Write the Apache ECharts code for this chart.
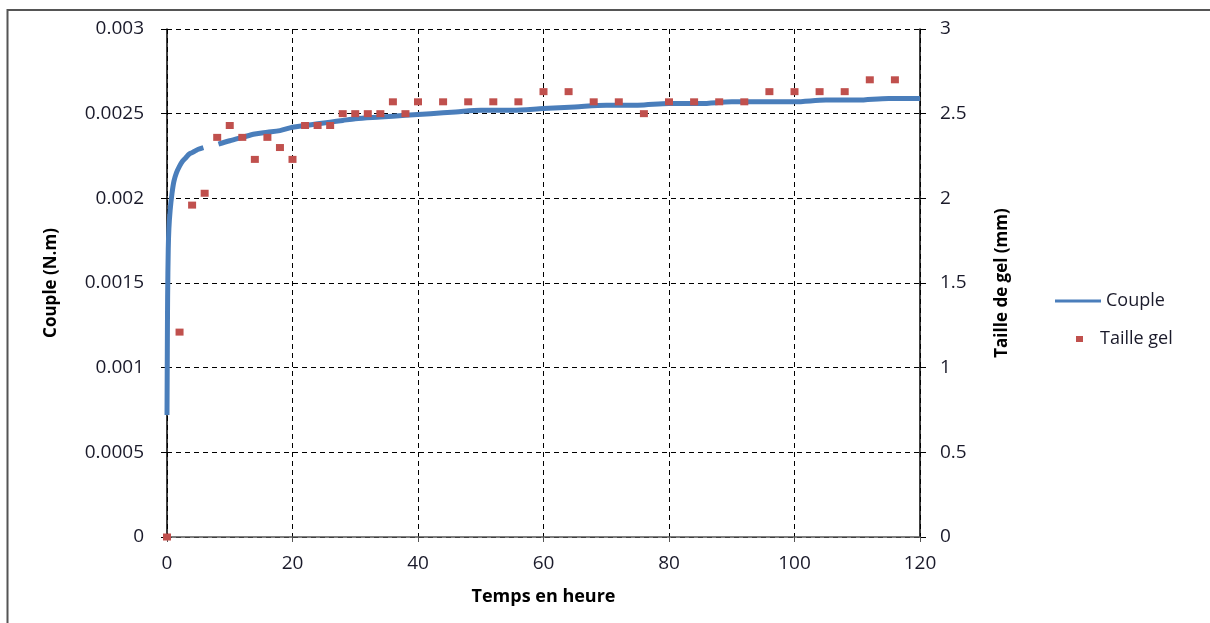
<!DOCTYPE html>
<html>
<head>
<meta charset="utf-8">
<script src="https://cdn.jsdelivr.net/npm/echarts@6/dist/echarts.min.js"></script>
<style>html,body{margin:0;padding:0;background:#fff}#c{width:1210px;height:623px}</style>
</head>
<body>
<div id="c"></div>
<script>
// Couple (N.m) vs time (h); null = gap in the recorded curve
const coupleTime = [0, 0.05, 0.1, 0.2, 0.3, 0.5, 0.8, 1.1, 1.5, 2, 2.5, 3, 3.5, 4, 4.5, 5, 5.8, 6.5, 8.2, 10, 12, 14, 16, 18, 20, 22, 24, 26, 28, 30, 34, 38, 42, 46, 50, 55, 60, 65, 70, 75, 80, 85, 90, 95, 100, 105, 110, 115, 120];
const coupleValues = [0.00072, 0.00110, 0.00142, 0.00170, 0.00182, 0.00193, 0.00203, 0.00210, 0.00215, 0.00219, 0.00222, 0.00224, 0.00226, 0.00227, 0.00228, 0.00229, 0.00230, null, 0.00232, 0.00234, 0.00236, 0.00238, 0.00239, 0.00240, 0.00242, 0.00243, 0.00244, 0.00245, 0.00246, 0.00247, 0.00248, 0.00249, 0.00250, 0.00251, 0.00252, 0.00252, 0.00253, 0.00254, 0.00255, 0.00255, 0.00256, 0.00256, 0.00257, 0.00257, 0.00257, 0.00258, 0.00258, 0.00259, 0.00259];
// Taille gel (mm) vs time (h)
const gelTime = [0, 2, 4, 6, 8, 10, 12, 14, 16, 18, 20, 22, 24, 26, 28, 30, 32, 34, 36, 38, 40, 44, 48, 52, 56, 60, 64, 68, 72, 76, 80, 84, 88, 92, 96, 100, 104, 108, 112, 116];
const gelValues = [0, 1.21, 1.96, 2.03, 2.36, 2.43, 2.36, 2.23, 2.36, 2.30, 2.23, 2.43, 2.43, 2.43, 2.50, 2.50, 2.50, 2.50, 2.57, 2.50, 2.57, 2.57, 2.57, 2.57, 2.57, 2.63, 2.63, 2.57, 2.57, 2.50, 2.57, 2.57, 2.57, 2.57, 2.63, 2.63, 2.63, 2.63, 2.70, 2.70];
const xTicks = [0, 20, 40, 60, 80, 100, 120];

const chart = echarts.init(document.getElementById('c'), null, {renderer: 'canvas'});
const font = "'Open Sans', 'Liberation Sans', sans-serif";
const lblColor = '#1a1a2a';
const dashed = {show: true, lineStyle: {color: '#000', type: [5, 4], width: 1}};
chart.setOption({
  animation: false,
  backgroundColor: '#fff',
  graphic: [{
    type: 'polyline', silent: true,
    shape: {points: [[7.5, 623], [7.5, 10], [1210, 10]]},
    style: {stroke: '#555', lineWidth: 2, fill: null}
  }],
  grid: {left: 167, right: 290, top: 29, bottom: 86},
  legend: [{
    orient: 'vertical', left: 1050, top: 287,
    textStyle: {fontFamily: font, fontSize: 18, color: lblColor},
    data: [{name: 'Couple', icon: 'path://M0,0 L46,0 L46,3 L0,3 Z', itemStyle: {color: '#4a7ebb'}}],
    itemWidth: 46, itemHeight: 3, itemGap: 2
  }, {
    orient: 'vertical', left: 1071, top: 325,
    textStyle: {fontFamily: font, fontSize: 18, color: lblColor, padding: [0, 0, 0, 12]},
    data: [{name: 'Taille gel', icon: 'rect', itemStyle: {color: '#c0504d'}}],
    itemWidth: 7, itemHeight: 6
  }],
  xAxis: {
    type: 'value', min: 0, max: 120, interval: 20,
    name: 'Temps en heure', nameLocation: 'middle', nameGap: 51,
    nameTextStyle: {fontFamily: font, fontSize: 18, fontWeight: 'bold', color: '#000'},
    axisLine: {show: true, lineStyle: {color: '#555', width: 1.5}},
    axisTick: {show: true, length: 5, lineStyle: {color: '#555'}},
    axisLabel: {fontFamily: font, fontSize: 19, color: lblColor, margin: 17,
      formatter: v => xTicks.includes(v) ? String(v) : ''},
    splitLine: dashed
  },
  yAxis: [{
    type: 'value', min: 0, max: 0.003, interval: 0.0005, position: 'left',
    name: 'Couple (N.m)', nameLocation: 'middle', nameGap: 107, nameRotate: 90,
    nameTextStyle: {fontFamily: font, fontSize: 17, fontWeight: 'bold', color: '#000'},
    axisLine: {show: true, lineStyle: {color: '#000', width: 1.5}},
    axisTick: {show: true, length: 6, lineStyle: {color: '#000'}},
    axisLabel: {fontFamily: font, fontSize: 19, color: lblColor, margin: 23,
      formatter: v => String(+v.toFixed(4))},
    splitLine: dashed
  }, {
    type: 'value', min: 0, max: 3, interval: 0.5, position: 'right',
    name: 'Taille de gel (mm)', nameLocation: 'middle', nameGap: 74, nameRotate: 90,
    nameTextStyle: {fontFamily: font, fontSize: 17, fontWeight: 'bold', color: '#000'},
    axisLine: {show: true, lineStyle: {color: '#000', width: 1.5}},
    axisTick: {show: true, length: 6, lineStyle: {color: '#000'}},
    axisLabel: {fontFamily: font, fontSize: 19, color: lblColor, margin: 20},
    splitLine: {show: false}
  }],
  series: [{
    name: 'Couple', type: 'line', yAxisIndex: 0, smooth: 0.3, showSymbol: false,
    connectNulls: false,
    lineStyle: {color: '#4a7ebb', width: 5},
    itemStyle: {color: '#4a7ebb'},
    data: coupleTime.map((t, i) => [t, coupleValues[i]]),
    z: 3
  }, {
    name: 'Taille gel', type: 'scatter', yAxisIndex: 1,
    symbol: 'rect', symbolSize: [8, 7],
    itemStyle: {color: '#c0504d', opacity: 1},
    data: gelTime.map((t, i) => [t, gelValues[i]]),
    z: 4
  }]
});
</script>
</body>
</html>
